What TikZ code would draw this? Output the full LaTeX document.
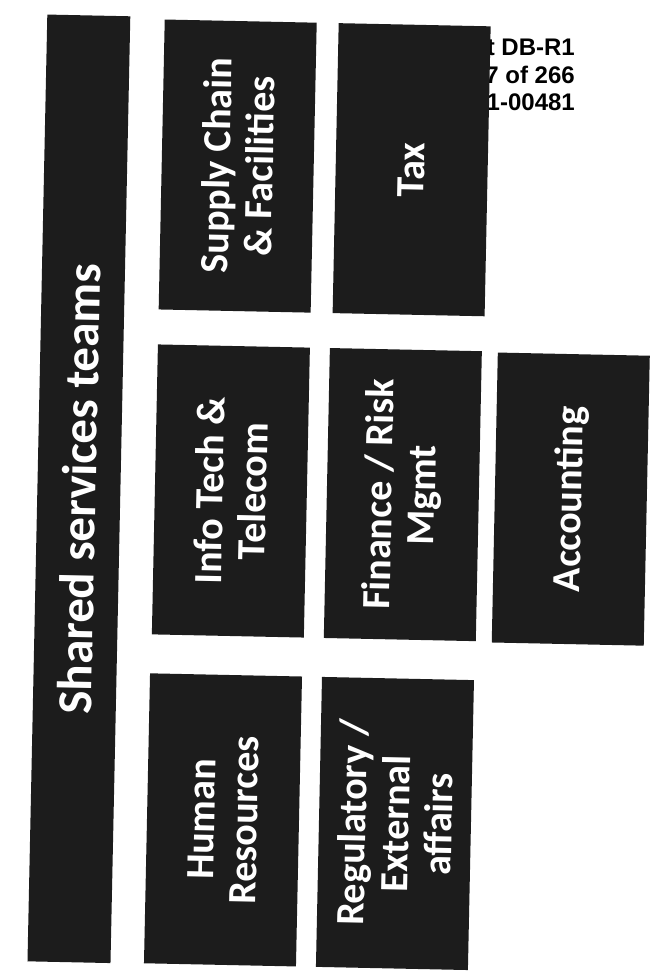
\documentclass[tikz,border=0pt]{standalone}
\usepackage{fontspec}
\setmainfont{Carlito}
\newfontfamily\stampfont{Liberation Sans}
\usetikzlibrary{positioning}
\definecolor{ScanInk}{HTML}{1C1C1C}

\begin{document}
\begin{tikzpicture}[x=1pt,y=-1pt]
  \tikzstyle{teambox}=[fill=ScanInk,text=white,rotate=88.8,inner sep=0pt,
    minimum width=290pt,minimum height=152pt,align=center,
    font=\fontsize{40}{43}\selectfont\bfseries]
  \useasboundingbox[fill=white] (0,0) rectangle (654,972);
  \node[anchor=east,align=right,inner sep=0pt,
    font=\stampfont\fontsize{24}{27.5}\selectfont\bfseries] (stamp) at (575,75)
    {t DB-R1\\7 of 266\\1-00481};
  \begin{scope}[rotate around={-1.2:(327,486)}]
    \node[teambox,minimum width=947pt,minimum height=83pt,
      font=\fontsize{49}{52}\selectfont\bfseries] (shared) at (79,494)
      {Shared services teams};
    \node[teambox] (supply) at (231,168) {Supply Chain\\\& Facilities};
    \node[teambox] (tax) at (405,168) {Tax};
    \node[teambox] (infotech) at (231,493) {Info Tech \&\\Telecom};
    \node[teambox] (finance) at (403,493) {Finance / Risk\\Mgmt};
    \node[teambox] (accounting) at (571,494) {Accounting};
    \node[teambox] (hr) at (230,822) {Human\\Resources};
    \node[teambox] (regulatory) at (402,822) {Regulatory /\\External\\affairs};
  \end{scope}
\end{tikzpicture}
\end{document}
